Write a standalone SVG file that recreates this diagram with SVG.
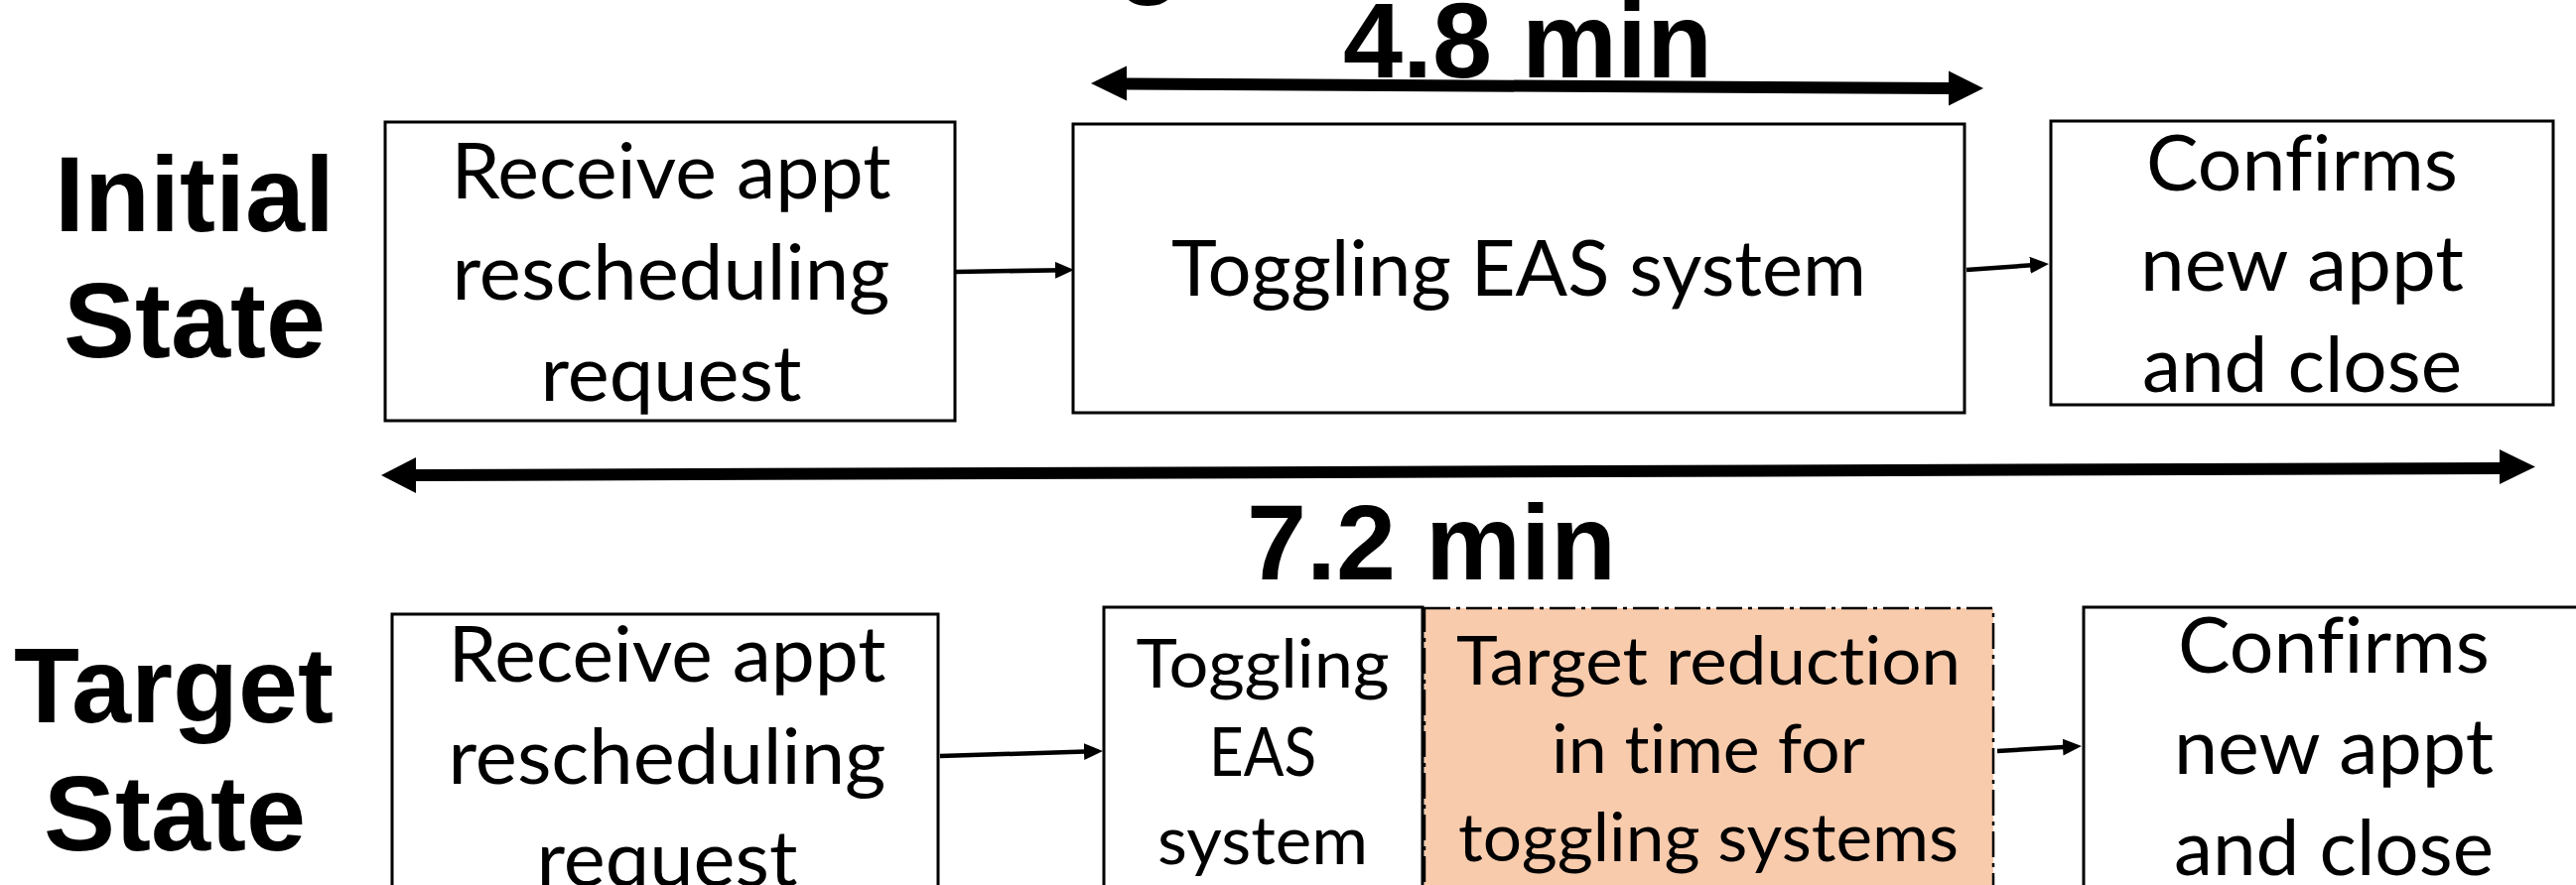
<svg xmlns="http://www.w3.org/2000/svg" width="2595" height="892" viewBox="0 0 2595 892">
  <style>
    .box { fill: #ffffff; stroke: #000000; stroke-width: 3; }
    .goal { fill: #F8CBAD; stroke: #000000; stroke-width: 2.5; stroke-dasharray: 26 6 4 6; }
    .txt { font-family: Lato, "Open Sans", sans-serif; font-size: 77px; fill: #000000; text-anchor: middle; font-variant-ligatures: none; font-feature-settings: "liga" 0, "clig" 0; }
    .txt-s { font-family: Lato, "Open Sans", sans-serif; font-size: 68px; fill: #000000; text-anchor: middle; font-variant-ligatures: none; font-feature-settings: "liga" 0, "clig" 0; }
    .big { font-family: "Liberation Sans", Arial, sans-serif; font-weight: bold; font-size: 108px; fill: #000000; text-anchor: middle; }
    .flow { fill: none; stroke: #000000; stroke-width: 4.5; marker-end: url(#head); }
    .span { fill: #000000; stroke: none; }
  </style>
  <defs>
    <marker id="head" markerUnits="userSpaceOnUse" markerWidth="20" markerHeight="18" refX="9" refY="8.5" orient="auto">
      <path d="M0,0 L19,8.5 L0,17 Z" fill="#000000"/>
    </marker>
  </defs>

  <rect width="2595" height="892" fill="#ffffff"/>

  <!-- title fragment at the top edge -->
  <text class="big" x="1158" y="-16">g</text>

  <!-- row labels -->
  <g id="label-initial">
    <text class="big" x="196" y="233">Initial</text>
    <text class="big" x="196" y="360">State</text>
  </g>
  <g id="label-target">
    <text class="big" x="175" y="728">Target</text>
    <text class="big" x="176" y="857">State</text>
  </g>

  <!-- duration spans -->
  <g id="span-48">
    <path class="span" d="M1099,84 L1135,66.5 L1135,78.5 L1963,83 L1963,71.5 L1998,89 L1963,106.5 L1963,95 L1135,90.5 L1135,101.5 Z"/>
    <text class="big" x="1539" y="78">4.8 min</text>
  </g>
  <g id="span-72">
    <path class="span" d="M384,479 L419,461 L419,473 L2518,466 L2518,453 L2554,470.5 L2518,488 L2518,478 L419,485 L419,497 Z"/>
    <text class="big" x="1442" y="584">7.2 min</text>
  </g>

  <!-- initial state process -->
  <g id="init-receive">
    <rect class="box" x="388" y="123" width="574" height="301"/>
    <text class="txt" x="676" y="200" textLength="443" lengthAdjust="spacingAndGlyphs">Receive appt</text>
    <text class="txt" x="676" y="302" textLength="441" lengthAdjust="spacingAndGlyphs">rescheduling</text>
    <text class="txt" x="676" y="404" textLength="263" lengthAdjust="spacingAndGlyphs">request</text>
  </g>
  <g id="init-toggle">
    <rect class="box" x="1081" y="125" width="898" height="291"/>
    <text class="txt" x="1530" y="298" textLength="700" lengthAdjust="spacingAndGlyphs">Toggling EAS system</text>
  </g>
  <g id="init-confirm">
    <rect class="box" x="2066" y="122" width="506" height="286"/>
    <text class="txt" x="2319" y="192" textLength="314" lengthAdjust="spacingAndGlyphs">Confirms</text>
    <text class="txt" x="2319" y="293" textLength="326" lengthAdjust="spacingAndGlyphs">new appt</text>
    <text class="txt" x="2319" y="395" textLength="322" lengthAdjust="spacingAndGlyphs">and close</text>
  </g>

  <!-- target state process -->
  <g id="target-receive">
    <rect class="box" x="395" y="619" width="550" height="300"/>
    <text class="txt" x="672" y="687" textLength="441" lengthAdjust="spacingAndGlyphs">Receive appt</text>
    <text class="txt" x="672" y="790" textLength="441" lengthAdjust="spacingAndGlyphs">rescheduling</text>
    <text class="txt" x="672" y="893" textLength="263" lengthAdjust="spacingAndGlyphs">request</text>
  </g>
  <g id="target-toggle">
    <rect class="box" x="1112" y="612" width="321" height="300"/>
    <text class="txt-s" x="1272" y="693" textLength="255" lengthAdjust="spacingAndGlyphs">Toggling</text>
    <text class="txt-s" x="1272" y="782" textLength="108" lengthAdjust="spacingAndGlyphs">EAS</text>
    <text class="txt-s" x="1272" y="871" textLength="212" lengthAdjust="spacingAndGlyphs">system</text>
  </g>
  <g id="target-reduction">
    <rect class="goal" x="1435" y="613" width="573" height="300"/>
    <text class="txt-s" x="1721" y="690" textLength="508" lengthAdjust="spacingAndGlyphs">Target reduction</text>
    <text class="txt-s" x="1721" y="779" textLength="316" lengthAdjust="spacingAndGlyphs">in time for</text>
    <text class="txt-s" x="1721" y="868" textLength="504" lengthAdjust="spacingAndGlyphs">toggling systems</text>
  </g>
  <g id="target-confirm">
    <rect class="box" x="2099" y="612" width="504" height="300"/>
    <text class="txt" x="2351" y="678" textLength="314" lengthAdjust="spacingAndGlyphs">Confirms</text>
    <text class="txt" x="2351" y="780" textLength="322" lengthAdjust="spacingAndGlyphs">new appt</text>
    <text class="txt" x="2351" y="882" textLength="322" lengthAdjust="spacingAndGlyphs">and close</text>
  </g>

  <!-- flow connectors -->
  <g id="connectors">
    <path class="flow" d="M963,274 L1072,272.2"/>
    <path class="flow" d="M1981,272 L2054,266.7"/>
    <path class="flow" d="M947,762 L1101,757.3"/>
    <path class="flow" d="M2012,757 L2087,752.6"/>
  </g>
</svg>
